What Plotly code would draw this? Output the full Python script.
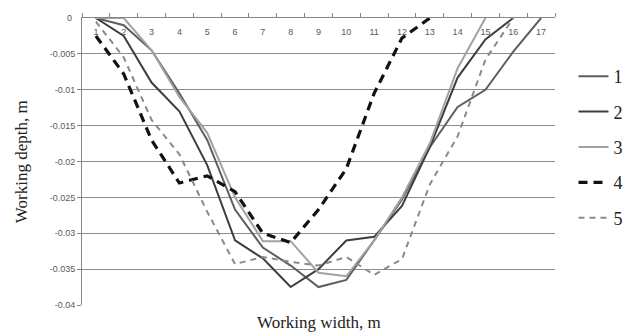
import plotly.graph_objects as go

categories = [str(i) for i in range(1, 18)]
series_names = ["1", "2", "3", "4", "5"]

s1 = [0, -0.001, -0.0045, -0.0105, -0.017, -0.0267, -0.032, -0.0345, -0.0375, -0.0365,
      -0.031, -0.0253, -0.018, -0.0124, -0.0100, -0.0047, 0]
s2 = [0, -0.0025, -0.009, -0.013, -0.0205, -0.031, -0.0335, -0.0375, -0.035, -0.031,
      -0.0305, -0.0262, -0.018, -0.0083, -0.003, 0, None]
s3 = [0, 0, -0.0045, -0.011, -0.016, -0.025, -0.0311, -0.0311, -0.0355, -0.036,
      -0.031, -0.025, -0.0175, -0.007, 0, None, None]
s4 = [-0.0025, -0.0078, -0.017, -0.023, -0.022, -0.0242, -0.030, -0.0313, -0.0267, -0.021,
      -0.0105, -0.0028, 0, None, None, None, None]
s5 = [-0.0005, -0.0055, -0.0142, -0.019, -0.027, -0.0343, -0.0333, -0.034, -0.0345, -0.0333,
      -0.0358, -0.0336, -0.0232, -0.0165, -0.0058, 0, None]

y_ticks = [0, -0.005, -0.01, -0.015, -0.02, -0.025, -0.03, -0.035, -0.04]
y_ticktext = ["0", "-0.005", "-0.01", "-0.015", "-0.02", "-0.025", "-0.03", "-0.035", "-0.04"]

styles = [
    dict(color="#5e5e5e", width=2, dash="solid"),
    dict(color="#3e3e3e", width=2, dash="solid"),
    dict(color="#a2a2a2", width=2, dash="solid"),
    dict(color="#111111", width=3.2, dash="9px,6px"),
    dict(color="#8a8a8a", width=2, dash="6px,5px"),
]

fig = go.Figure()
for name, vals, st in zip(series_names, [s1, s2, s3, s4, s5], styles):
    fig.add_trace(go.Scatter(x=categories, y=vals, mode="lines", name=name,
                             line=st, legendgroup=name, connectgaps=False))

W, H = 640, 333
L, R, T, B = 82, 72, 18, 28
pw = W - L - R
ph = H - T - B

tick_font = dict(family="Liberation Sans", size=9, color="#595959")

fig.update_layout(
    width=W, height=H,
    margin=dict(l=L, r=R, t=T, b=B),
    paper_bgcolor="white", plot_bgcolor="white",
    showlegend=True,
    legend=dict(x=(587 - L) / pw, xanchor="left", y=1 - (58 - T) / ph, yanchor="top",
                font=dict(family="Liberation Serif", size=18, color="#222222"),
                tracegroupgap=9, bgcolor="rgba(0,0,0,0)", itemwidth=30),
    xaxis=dict(type="category", side="top", tickson="boundaries",
               range=[-0.5, 16.5],
               ticks="outside", ticklen=4, tickcolor="#868686",
               ticklabelposition="inside", ticklabelstandoff=10,
               tickfont=tick_font,
               showline=True, linecolor="#868686", linewidth=1,
               showgrid=False, zeroline=False, fixedrange=True),
    yaxis=dict(range=[-0.04, 0], tickvals=y_ticks, ticktext=y_ticktext,
               ticks="outside", ticklen=4, tickcolor="#868686",
               ticklabeloverflow="allow",
               tickfont=tick_font,
               showline=True, linecolor="#868686", linewidth=1,
               showgrid=True, gridcolor="#8c8c8c", gridwidth=1,
               zeroline=False),
    annotations=[
        dict(text="Working width, m", xref="paper", yref="paper",
             x=(325 - L) / pw, y=-0.02, xanchor="center", yanchor="top",
             showarrow=False,
             font=dict(family="Liberation Serif", size=17, color="#222222")),
        dict(text="Working depth, m", xref="paper", yref="paper",
             x=(20 - L) / pw, y=0.5, xanchor="center", yanchor="middle",
             textangle=-90, showarrow=False,
             font=dict(family="Liberation Serif", size=17, color="#222222")),
        dict(text=y_ticktext[0], xref="paper", yref="y",
             x=-8 / pw, y=y_ticks[0], xanchor="right", yanchor="middle",
             showarrow=False, font=tick_font),
    ],
)

fig.write_html("out.html")
